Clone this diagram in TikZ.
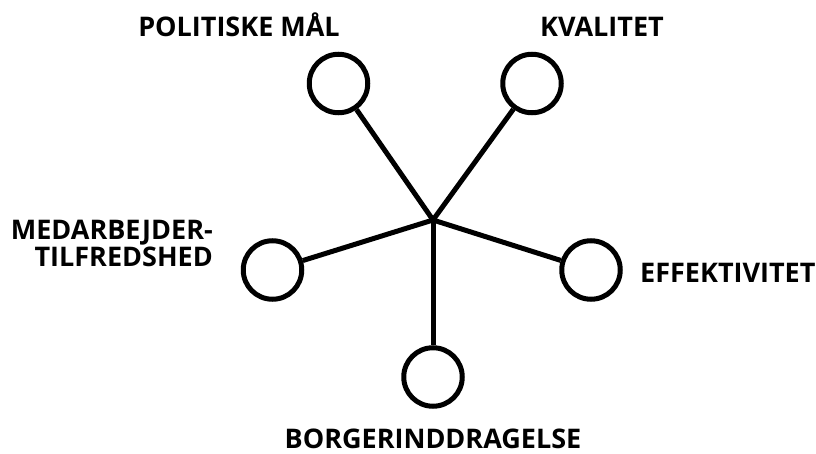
\documentclass[tikz,border=0pt]{standalone}
\usepackage{fontspec}
\setmainfont{Open Sans}
\begin{document}
\begin{tikzpicture}[x=1pt,y=-1pt,
  ring/.style={circle,draw,line width=5pt,minimum size=58.5pt,inner sep=0pt},
  spoke/.style={line width=5pt},
  lbl/.style={font=\fontsize{27}{27.5}\selectfont\bfseries,inner sep=0pt}]
\useasboundingbox (0,0) rectangle (816,454);
\coordinate (hub) at (433,220);
\node[ring] (pol) at (338.5,83.5) {};
\node[ring] (kva) at (532,83.5) {};
\node[ring] (med) at (272.5,270) {};
\node[ring] (eff) at (591,270) {};
\node[ring] (bor) at (433,377) {};
\foreach \n in {pol,kva,med,eff,bor} \draw[spoke] (hub) -- (\n);
\node[lbl,anchor=base] (tpol) at (239,37) {POLITISKE MÅL};
\node[lbl,anchor=base] (tkva) at (602,37) {KVALITET};
\node[lbl,anchor=base east,align=right] (tmed) at (213,267) {MEDARBEJDER-\\TILFREDSHED};
\node[lbl,anchor=base west] (teff) at (640,282) {EFFEKTIVITET};
\node[lbl,anchor=base] (tbor) at (433,448) {BORGERINDDRAGELSE};
\end{tikzpicture}
\end{document}
